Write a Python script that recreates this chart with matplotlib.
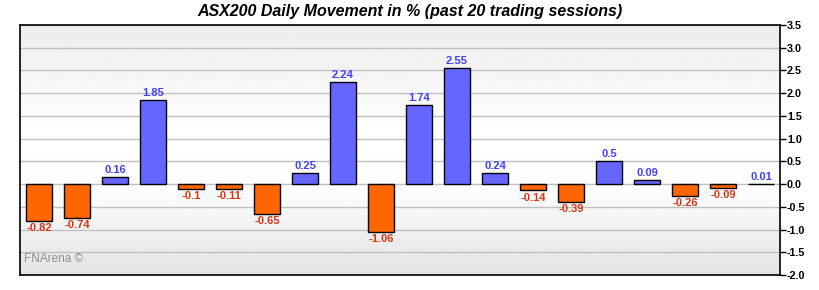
import numpy as np
import matplotlib.pyplot as plt

plt.rcParams['font.family'] = ['Liberation Sans', 'DejaVu Sans']

values = [-0.82, -0.74, 0.16, 1.85, -0.1, -0.11, -0.65, 0.25, 2.24, -1.06,
          1.74, 2.55, 0.24, -0.14, -0.39, 0.5, 0.09, -0.26, -0.09, 0.01]
labels = ['-0.82', '-0.74', '0.16', '1.85', '-0.1', '-0.11', '-0.65', '0.25', '2.24', '-1.06',
          '1.74', '2.55', '0.24', '-0.14', '-0.39', '0.5', '0.09', '-0.26', '-0.09', '0.01']
yticks = np.arange(-2.0, 3.51, 0.5)

pos_col, neg_col = '#6666ff', '#ff6600'
pos_txt, neg_txt = '#4040ff', '#dd3311'

fig = plt.figure(figsize=(8.2, 2.9), dpi=100)
ax = fig.add_axes([20 / 820, 15 / 290, 760 / 820, 250 / 290])

# vertical background gradient: grey top, white middle, grey bottom
ys = np.linspace(3.5, -2.0, 256)
shade = np.interp(ys, [-2.0, -0.2, 1.2, 3.5], [0.89, 0.99, 1.0, 0.925])
ax.imshow(shade[:, None], cmap='gray', vmin=0, vmax=1, aspect='auto',
          extent=(-0.5, 19.5, -2.0, 3.5), zorder=0)

for y in yticks:
    ax.axhline(y, color='#c0c0c0', lw=1, zorder=1)

x = np.arange(len(values))
colors = [pos_col if v >= 0 else neg_col for v in values]
ax.bar(x, values, width=0.7, color=colors, edgecolor='black', linewidth=1, zorder=2)

for xi, v, lab in zip(x, values, labels):
    if v >= 0:
        ax.annotate(lab, (xi, v), xytext=(0, 1.5), textcoords='offset points',
                    ha='center', va='bottom', color=pos_txt, fontsize=8, fontweight='bold')
    else:
        ax.annotate(lab, (xi, v), xytext=(0, -1.5), textcoords='offset points',
                    ha='center', va='top', color=neg_txt, fontsize=8, fontweight='bold')

ax.set_xlim(-0.5, 19.5)
ax.set_ylim(-2.0, 3.5)
ax.set_xticks([])
ax.yaxis.tick_right()
ax.set_yticks(yticks)
ax.set_yticklabels([f'{t:.1f}' for t in yticks], fontsize=7.8, fontweight='bold')
ax.tick_params(axis='y', length=4, width=1, pad=1)
for s in ax.spines.values():
    s.set_linewidth(1.2)

ax.text(0.005, 0.05, 'FNArena ©', transform=ax.transAxes, color='#909090', fontsize=8.5)

fig.text(0.5, 0.962, 'ASX200 Daily Movement in % (past 20 trading sessions)',
         ha='center', va='center', fontsize=11.5, fontweight='bold', style='italic')

fig.savefig('out.png', dpi=100)
